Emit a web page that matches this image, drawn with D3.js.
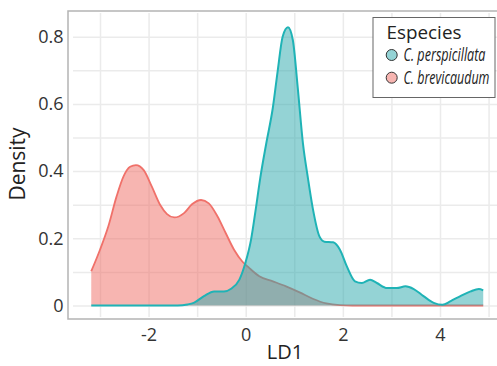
<!DOCTYPE html>
<html>
<head>
<meta charset="utf-8">
<script src="https://cdn.jsdelivr.net/npm/d3@7"></script>
<style>
  html, body { margin: 0; padding: 0; background: #fff; }
  svg { display: block; font-family: "Open Sans", sans-serif; }
</style>
</head>
<body>
<div id="root"></div>
<script>
const WIDTH = 497
const HEIGHT = 366

const TEAL = '#1fb3b6'
const TEAL_FILL = '#2aa8ac'
const RED = '#f0716a'
const RED_FILL = '#ef6b63'

// C. brevicaudum density
const brevX = [-3.18, -3.0, -2.83, -2.66, -2.52, -2.38, -2.26, -2.10, -1.93, -1.76, -1.62, -1.47, -1.27, -1.10, -0.92, -0.76, -0.58, -0.41, -0.24, -0.07, 0.07, 0.28, 0.56, 0.83, 1.11, 1.38, 1.66, 1.94, 2.2, 4.89]
const brevY = [0.102, 0.166, 0.235, 0.324, 0.383, 0.413, 0.418, 0.403, 0.353, 0.299, 0.272, 0.262, 0.275, 0.302, 0.314, 0.304, 0.265, 0.215, 0.166, 0.131, 0.112, 0.087, 0.072, 0.057, 0.039, 0.020, 0.006, 0.001, 0, 0]

// C. perspicillata density
const perspX = [-3.18, -1.4, -1.2, -1.07, -0.86, -0.65, -0.45, -0.3, -0.13, 0.0, 0.11, 0.2, 0.3, 0.42, 0.56, 0.66, 0.76, 0.87, 0.97, 1.07, 1.18, 1.28, 1.38, 1.52, 1.62, 1.8, 1.94, 2.08, 2.25, 2.39, 2.56, 2.70, 2.91, 3.11, 3.29, 3.46, 3.66, 3.87, 4.05, 4.22, 4.42, 4.63, 4.80, 4.89]
const perspY = [0, 0, 0.003, 0.008, 0.028, 0.042, 0.042, 0.05, 0.077, 0.13, 0.196, 0.28, 0.38, 0.48, 0.59, 0.70, 0.80, 0.828, 0.79, 0.65, 0.48, 0.38, 0.29, 0.205, 0.19, 0.188, 0.166, 0.117, 0.072, 0.067, 0.077, 0.067, 0.052, 0.052, 0.057, 0.049, 0.028, 0.008, 0.002, 0.013, 0.028, 0.042, 0.049, 0.045]

const xTicks = [-2, 0, 2, 4]
const yTicks = [0, 0.2, 0.4, 0.6, 0.8]
const xGrid = [-3, -2, -1, 0, 1, 2, 3, 4, 5]
const yGrid = [0, 0.1, 0.2, 0.3, 0.4, 0.5, 0.6, 0.7, 0.8]

const legendTitle = 'Especies'
const legendItems = [
  { label: 'C. perspicillata', color: TEAL_FILL, len: 82 },
  { label: 'C. brevicaudum', color: RED_FILL, len: 86 }
]

const xScale = d3.scaleLinear().domain([-3, 4]).range([100, 440])
const yScale = d3.scaleLinear().domain([0, 0.8]).range([305.5, 36.7])

const svg = d3.select('#root')
  .append('svg')
  .attr('width', WIDTH)
  .attr('height', HEIGHT)

// grid
svg.append('g')
  .attr('transform', 'translate(0, 317)')
  .call(d3.axisBottom(xScale).tickValues(xGrid).tickSize(-304).tickFormat(''))
  .call(g => g.select('.domain').remove())
  .call(g => g.selectAll('line').attr('stroke', '#ebebeb').attr('stroke-width', 1.5))

svg.append('g')
  .attr('transform', 'translate(73, 0)')
  .call(d3.axisRight(yScale).tickValues(yGrid).tickSize(WIDTH - 73).tickFormat(''))
  .call(g => g.select('.domain').remove())
  .call(g => g.selectAll('line').attr('stroke', '#ebebeb').attr('stroke-width', 1.5))

// panel border
svg.append('path')
  .attr('d', `M${WIDTH + 2},11 H68 V319 H${WIDTH + 2}`)
  .attr('fill', 'none')
  .attr('stroke', '#b4b4b4')
  .attr('stroke-width', 1.5)

const area = d3.area()
  .x(d => xScale(d[0]))
  .y0(yScale(0))
  .y1(d => yScale(d[1]))
  .curve(d3.curveMonotoneX)

const line = d3.line()
  .x(d => xScale(d[0]))
  .y(d => yScale(d[1]))
  .curve(d3.curveMonotoneX)

const brev = d3.zip(brevX, brevY)
const persp = d3.zip(perspX, perspY)

svg.append('path').datum(brev).attr('d', area)
  .attr('fill', RED_FILL).attr('fill-opacity', 0.5)
svg.append('path').datum(brev).attr('d', line)
  .attr('fill', 'none').attr('stroke', RED).attr('stroke-width', 1.8)

svg.append('path').datum(persp).attr('d', area)
  .attr('fill', TEAL_FILL).attr('fill-opacity', 0.5)
svg.append('path').datum(persp).attr('d', line)
  .attr('fill', 'none').attr('stroke', TEAL).attr('stroke-width', 2)

// axes labels
svg.append('g')
  .attr('transform', 'translate(68, 0)')
  .call(d3.axisLeft(yScale).tickValues(yTicks).tickSize(0).tickPadding(4.5)
    .tickFormat(d => d === 0 ? '0' : d.toFixed(1)))
  .call(g => g.select('.domain').remove())
  .call(g => g.selectAll('text')
    .attr('font-size', 18).attr('font-family', '"Open Sans", sans-serif').attr('fill', '#333'))

svg.append('g')
  .attr('transform', 'translate(0, 319)')
  .call(d3.axisBottom(xScale).tickValues(xTicks).tickSize(0).tickPadding(9.5)
    .tickFormat(d => `${d}`))
  .call(g => g.select('.domain').remove())
  .call(g => g.selectAll('text')
    .attr('font-size', 18).attr('font-family', '"Open Sans", sans-serif').attr('fill', '#333'))

svg.append('text')
  .attr('x', 285)
  .attr('y', 359)
  .attr('text-anchor', 'middle')
  .attr('font-size', 20)
  .attr('fill', '#222')
  .text('LD1')

svg.append('text')
  .attr('transform', 'translate(25, 164) rotate(-90)')
  .attr('text-anchor', 'middle')
  .attr('font-size', 21)
  .attr('fill', '#222')
  .text('Density')

// legend
const legend = svg.append('g').attr('id', 'legend')

legend.append('rect')
  .attr('x', 373)
  .attr('y', 17.5)
  .attr('width', 122)
  .attr('height', 80)
  .attr('fill', '#fff')
  .attr('stroke', '#666')
  .attr('stroke-width', 1)

legend.append('text')
  .attr('font-size', 19)
  .attr('fill', '#222')
  .text(legendTitle)
  .attr('transform', function () {
    const k = 75 / this.getComputedTextLength()
    return `translate(386.5, 38.5) scale(${k}, 1)`
  })

const items = legend.selectAll('.legend_item')
  .data(legendItems)
  .enter()
  .append('g')
  .attr('class', 'legend_item')
  .attr('transform', (_, i) => `translate(0, ${55 + i * 22.7})`)

items.append('circle')
  .attr('cx', 391.7)
  .attr('cy', 0)
  .attr('r', 5.5)
  .attr('fill', d => d.color)
  .attr('fill-opacity', 0.5)
  .attr('stroke', '#333')
  .attr('stroke-width', 1)

// condensed look: squeeze the italic labels horizontally to the reference width
items.append('text')
  .attr('font-size', 17.5)
  .attr('font-style', 'italic')
  .attr('fill', '#222')
  .text(d => d.label)
  .attr('transform', function (d) {
    const k = d.len / this.getComputedTextLength()
    return `translate(403.5, 5.8) scale(${k}, 1)`
  })
</script>
</body>
</html>
